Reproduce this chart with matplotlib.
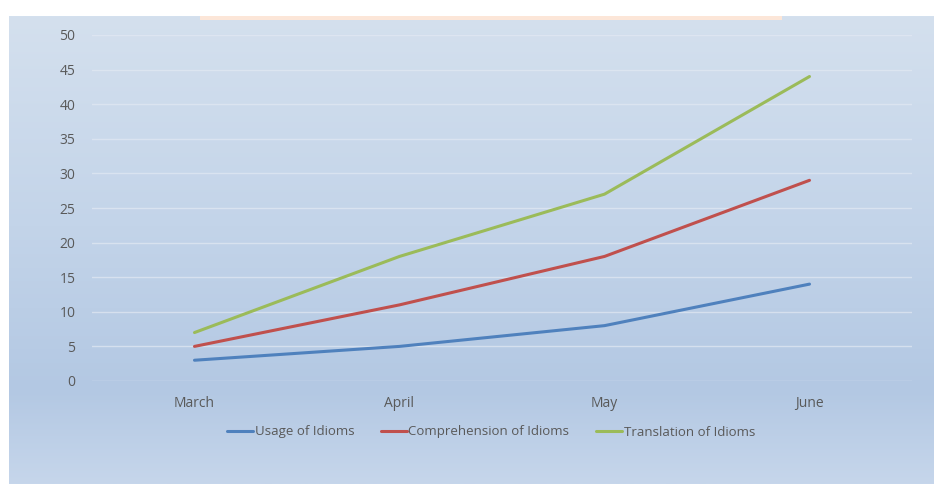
import numpy as np
import matplotlib
matplotlib.use("Agg")
import matplotlib.pyplot as plt
from matplotlib.colors import LinearSegmentedColormap
from matplotlib.patches import Rectangle

months = ["March", "April", "May", "June"]
usage = [3, 5, 8, 14]
comprehension = [5, 11, 18, 29]
translation = [7, 18, 27, 44]
y_ticks = [0, 5, 10, 15, 20, 25, 30, 35, 40, 45, 50]

W, H = 934, 484
fig = plt.figure(figsize=(W / 100, H / 100), dpi=100)
fig.patch.set_facecolor("white")

# gradient backdrop (light at top, darker blue low down, a little lighter at the very bottom)
bg = fig.add_axes([9 / W, 0, 1 - 9 / W, (H - 16) / H], zorder=0)
cmap = LinearSegmentedColormap.from_list(
    "bg", [(0.0, "#d4e0ee"), (0.45, "#c3d4e9"), (0.80, "#b3c8e3"), (1.0, "#c6d6eb")])
grad = np.linspace(0, 1, 256).reshape(-1, 1)
bg.imshow(grad, aspect="auto", cmap=cmap, extent=[0, 1, 1, 0])
bg.set_xlim(0, 1)
bg.set_ylim(1, 0)
bg.axis("off")

# faint cut-off title box at the top
fig.patches.append(Rectangle((200 / W, (H - 20) / H), 582 / W, 4 / H,
                             transform=fig.transFigure, facecolor="#fce6d8",
                             edgecolor="none", zorder=1))

ax = fig.add_axes([92 / W, (H - 381) / H, 820 / W, 346 / H], zorder=2)
ax.patch.set_alpha(0)

x = np.arange(len(months))
ax.plot(x, usage, color="#4f81bd", lw=2.2, label="Usage of Idioms", solid_capstyle="round")
ax.plot(x, comprehension, color="#c0504d", lw=2.2, label="Comprehension of Idioms", solid_capstyle="round")
ax.plot(x, translation, color="#9bbb59", lw=2.2, label="Translation of Idioms", solid_capstyle="round")

ax.set_xlim(-0.5, len(months) - 0.5)
ax.set_ylim(0, 50)
ax.set_yticks(y_ticks)
ax.set_xticks(x)
ax.set_xticklabels(months)
ax.grid(axis="y", color="#e2e9f3", lw=1, alpha=0.7)
ax.set_axisbelow(True)
for s in ax.spines.values():
    s.set_visible(False)
ax.tick_params(length=0, labelsize=10, labelcolor="#595959")
ax.tick_params(axis="y", pad=12)
ax.tick_params(axis="x", pad=11)
for lab in ax.get_xticklabels() + ax.get_yticklabels():
    lab.set_fontfamily("Open Sans")

leg = fig.legend(loc="center", bbox_to_anchor=(491 / W, 52 / H), ncol=3, frameon=False,
                 handlelength=2.0, handletextpad=0.1, columnspacing=2.0,
                 prop={"family": "Open Sans", "size": 9.5})
for t in leg.get_texts():
    t.set_color("#595959")

fig.savefig("out.png", dpi=100)
